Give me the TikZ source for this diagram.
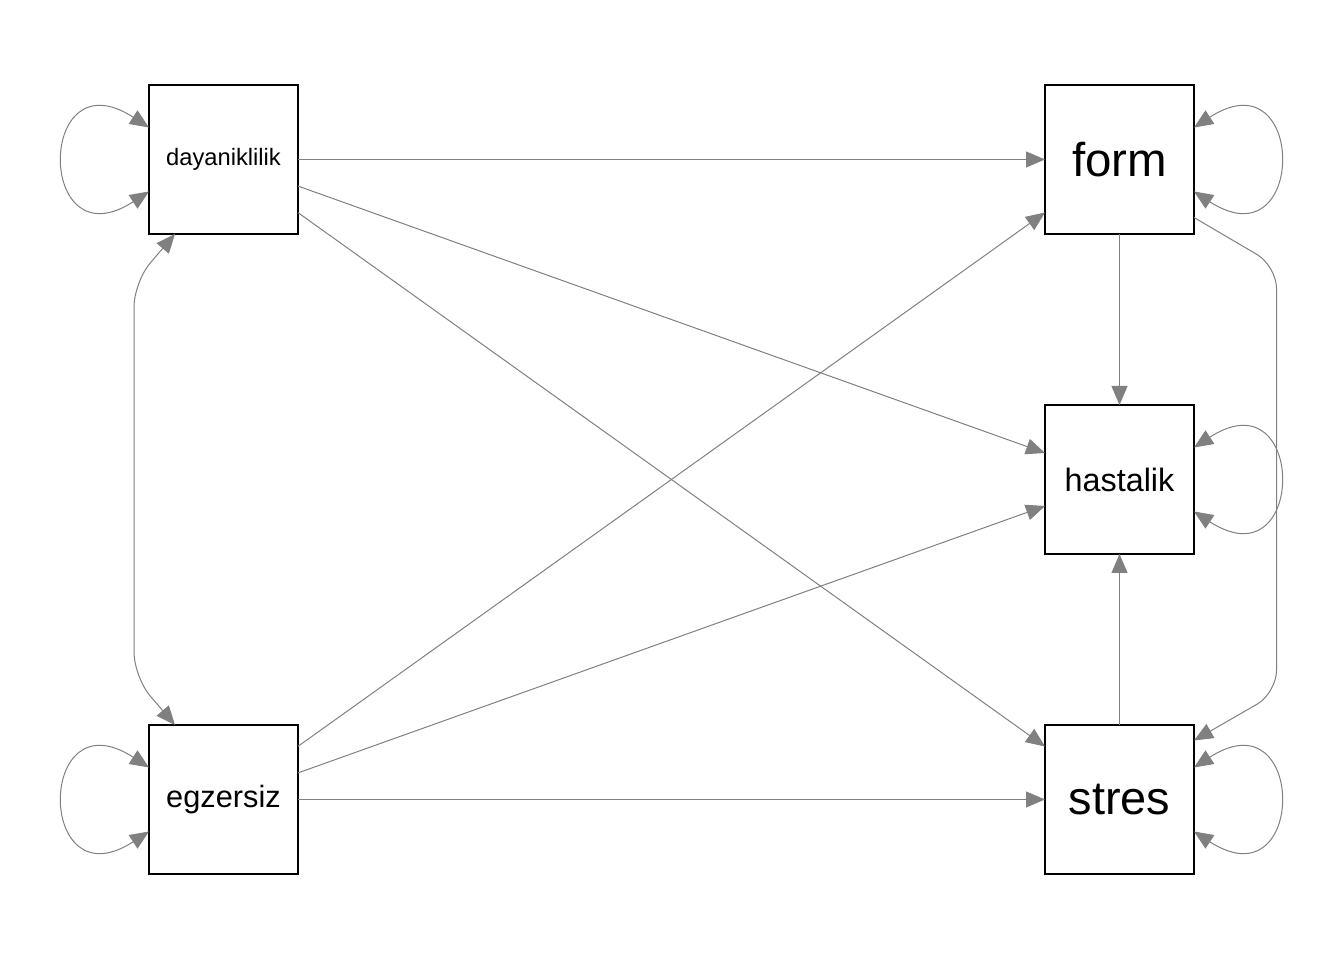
\documentclass[tikz,border=0pt]{standalone}
\usepackage{fontspec}
\setmainfont{Liberation Sans}
\usetikzlibrary{arrows.meta}
\definecolor{edgegray}{HTML}{808080}

\begin{document}
\begin{tikzpicture}[
    varbox/.style={draw, minimum size=2.98cm, inner sep=0pt, outer sep=0pt, line width=0.8pt},
    edge/.style={draw=edgegray, line width=0.57pt},
    regarrow/.style={edge, -{Triangle[length=0.38cm,width=0.32cm]}},
    covarrow/.style={edge, {Triangle[length=0.38cm,width=0.32cm]}-{Triangle[length=0.38cm,width=0.32cm]}},
    loopleft/.style={covarrow, out=147, in=-147, looseness=5.4},
    loopright/.style={covarrow, out=33, in=-33, looseness=5.4}
]
    \useasboundingbox (0,0) rectangle (26.88,19.2);

    % Exogenous variables
    \node[varbox, font=\fontsize{13.5}{16}\selectfont] (dayan) at (4.47,16.01) {dayaniklilik};
    \node[varbox, font=\fontsize{17.5}{20}\selectfont] (egz) at (4.47,3.21) {egzersiz};

    % Endogenous variables
    \node[varbox, font=\fontsize{27}{30}\selectfont] (form) at (22.39,16.01) {form};
    \node[varbox, font=\fontsize{18.4}{21}\selectfont] (hast) at (22.39,9.61) {hastalik};
    \node[varbox, font=\fontsize{26.7}{30}\selectfont] (stres) at (22.39,3.21) {stres};

    % Regressions
    \draw[regarrow] (dayan) -- (form);
    \draw[regarrow] (dayan) -- (hast);
    \draw[regarrow] (dayan) -- (stres);
    \draw[regarrow] (egz) -- (form);
    \draw[regarrow] (egz) -- (hast);
    \draw[regarrow] (egz) -- (stres);
    \draw[regarrow] (form) -- (hast);
    \draw[regarrow] (stres) -- (hast);

    % Curved path from form to stres
    \coordinate (rbendtop) at (25.53,13.88);
    \coordinate (rbendbot) at (25.53,5.34);
    \draw[regarrow, rounded corners=0.45cm] ([yshift=-1.16cm]form.east) -- (rbendtop) -- (rbendbot) -- ([yshift=1.18cm]stres.east);

    % Covariance of the exogenous variables
    \coordinate (lbendtop) at (2.68,13.56);
    \coordinate (lbendbot) at (2.68,5.66);
    \draw[covarrow, rounded corners=0.5cm] ([xshift=-0.97cm]dayan.south) -- (lbendtop) -- (lbendbot) -- ([xshift=-0.97cm]egz.north);

    % Variances
    \foreach \v in {dayan, egz}
        \draw[loopleft] ([yshift=0.64cm]\v.west) to ([yshift=-0.64cm]\v.west);
    \foreach \v in {form, hast, stres}
        \draw[loopright] ([yshift=0.64cm]\v.east) to ([yshift=-0.64cm]\v.east);
\end{tikzpicture}
\end{document}
